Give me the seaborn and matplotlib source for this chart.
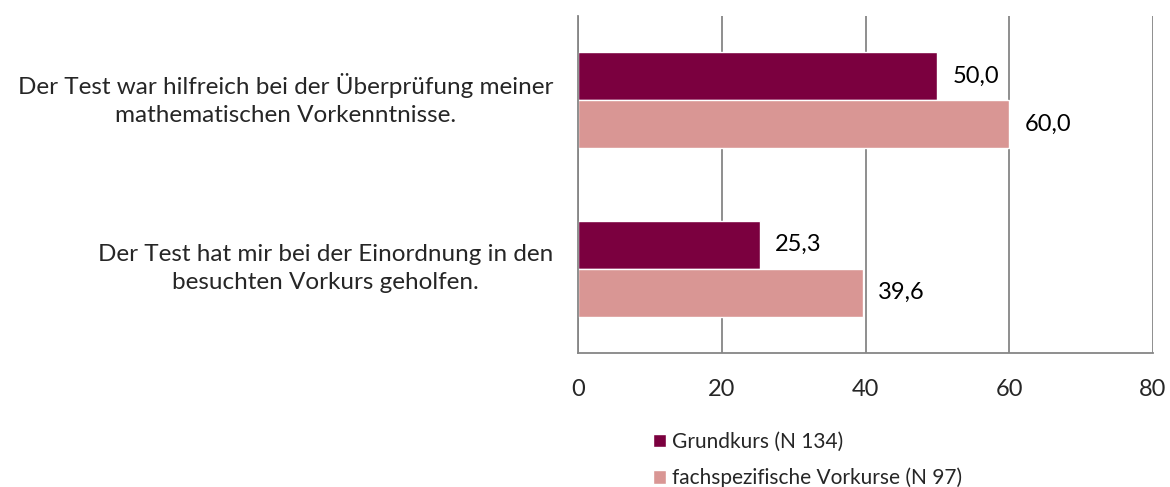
import pandas as pd
import numpy as np
import matplotlib.pyplot as plt
import matplotlib.transforms as mtransforms
import seaborn as sns

# survey statements and percentages of agreement
statements = ["Der Test war hilfreich bei der Überprüfung meiner\nmathematischen Vorkenntnisse.",
              "Der Test hat mir bei der Einordnung in den\nbesuchten Vorkurs geholfen."]
groups = ["Grundkurs (N 134)", "fachspezifische Vorkurse (N 97)"]
grundkurs = [50.0, 25.3]
fachspezifisch = [60.0, 39.6]

df = pd.DataFrame({
    "statement": statements * 2,
    "group": [groups[0]] * 2 + [groups[1]] * 2,
    "value": grundkurs + fachspezifisch,
})

sns.set_style("white")
plt.rcParams['font.family'] = ['Lato', 'DejaVu Sans']
grey = "#868686"
fs = 17

fig = plt.figure(figsize=(11.7, 4.87), dpi=100)
ax = fig.add_axes([0.494, 0.2752, 0.4915, 0.6919])

sns.barplot(data=df, y="statement", x="value", hue="group", orient="h",
            palette=["#7B003F", "#D99694"], width=0.571, saturation=1,
            ax=ax, legend=True)

for cont in ax.containers:
    ax.bar_label(cont, labels=[f"{v:.1f}".replace(".", ",") for v in cont.datavalues],
                 padding=11, fontsize=fs, color="black")

ax.set_xlim(0, 80)
ax.set_ylim(1.5, -0.5)
ax.set_xticks([0, 20, 40, 60, 80])
ax.set_xlabel("")
ax.set_ylabel("")
ax.grid(axis="x", color=grey, linewidth=1.3)
ax.set_axisbelow(True)

# category labels, no tick marks at category centres
ax.set_yticks([0, 1])
ax.set_yticklabels(statements, fontsize=17.5, multialignment="center", linespacing=1.4)
ax.tick_params(axis="y", length=0, pad=18)
shift = mtransforms.ScaledTranslation(0, 6 / 100, fig.dpi_scale_trans)
for lab in ax.get_yticklabels():
    lab.set_transform(lab.get_transform() + shift)
ax.set_yticks([-0.5, 0.5, 1.5], minor=True)
ax.tick_params(axis="y", which="minor", length=6, color=grey, width=1.3, direction="out")
ax.tick_params(axis="x", length=6, color=grey, width=1.3, direction="out", labelsize=fs, pad=13)

for s in ["top", "right"]:
    ax.spines[s].set_visible(False)
for s in ["left", "bottom"]:
    ax.spines[s].set_color(grey)
    ax.spines[s].set_linewidth(1.3)

handles, labels = ax.get_legend_handles_labels()
ax.get_legend().remove()
fig.legend(handles, labels, loc="upper left", bbox_to_anchor=(0.558, 0.113),
           frameon=False, fontsize=15, handlelength=0.62, handleheight=0.62,
           handletextpad=0.3, labelspacing=0.75, borderaxespad=0, borderpad=0)

fig.savefig("out.png", dpi=100)
